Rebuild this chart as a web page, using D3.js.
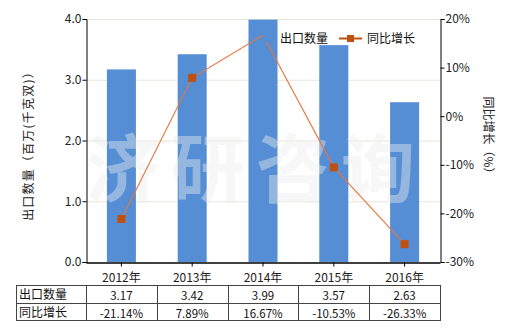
<!DOCTYPE html>
<html><head><meta charset="utf-8">
<script src="https://cdn.jsdelivr.net/npm/d3@7/dist/d3.min.js"></script>
<style>body{margin:0;background:#fff}svg{display:block}text{font-family:"Noto Sans CJK SC","DejaVu Sans",sans-serif}</style>
</head><body><svg id="c" width="520" height="330"></svg>
<script>
const categories = ["2012年","2013年","2014年","2015年","2016年"];
const exportQty = [3.17, 3.42, 3.99, 3.57, 2.63];
const yoyGrowth = [-21.14, 7.89, 16.67, -10.53, -26.33];
const qtyLabels = ["3.17","3.42","3.99","3.57","2.63"];
const growthLabels = ["-21.14%","7.89%","16.67%","-10.53%","-26.33%"];
const leftTicks = [0,1,2,3,4];
const rightTicks = [-30,-20,-10,0,10,20];

const svg = d3.select("#c");
const L = 86, R = 440, T = 19, B = 262;
const x = d3.scaleBand().domain(categories).range([L, R]).paddingInner(0.59).paddingOuter(0.295);
const xc = d3.scaleBand().domain(categories).range([L, R]);
const y = d3.scaleLinear().domain([0,4]).range([B, T]);
const y2 = d3.scaleLinear().domain([-30,20]).range([B, T]);
const fs = 12;

// gridlines
svg.append("g").selectAll("line").data(leftTicks.filter(d=>d>0)).join("line")
  .attr("x1", L).attr("x2", R).attr("y1", d=>y(d)+0.5).attr("y2", d=>y(d)+0.5)
  .attr("stroke", "#e6e6dc").attr("stroke-width", 1);

// bars
svg.append("g").selectAll("rect").data(exportQty).join("rect")
  .attr("x", (d,i)=>x(categories[i])).attr("width", x.bandwidth())
  .attr("y", d=>y(d)).attr("height", d=>B - y(d)).attr("fill", "#558ed5");

// watermark
svg.append("text").attr("x", 256).attr("y", 196).attr("text-anchor","middle")
  .attr("font-size", 74).attr("font-weight", "bold").attr("letter-spacing", 11)
  .attr("fill", "#eeeeee").attr("opacity", 0.42).text("济研咨询");

// line
const line = d3.line().x((d,i)=>xc(categories[i]) + xc.bandwidth()/2).y(d=>y2(d));
svg.append("path").datum(yoyGrowth).attr("d", line).attr("fill","none")
  .attr("stroke", "#e8743b").attr("stroke-width", 1.1);
svg.append("g").selectAll("rect").data(yoyGrowth).join("rect")
  .attr("x", (d,i)=>xc(categories[i]) + xc.bandwidth()/2 - 4)
  .attr("y", d=>y2(d) - 4).attr("width", 8).attr("height", 8)
  .attr("fill", "#c0500f").attr("opacity", (d,i)=> i===2 ? 0 : 1);

// axes
const gl = svg.append("g").attr("transform", `translate(${L+0.5},0)`)
  .call(d3.axisLeft(y).tickValues(leftTicks).tickFormat(d3.format(".1f")).tickSizeOuter(0).tickSize(4));
const gr = svg.append("g").attr("transform", `translate(${R+0.5},0)`)
  .call(d3.axisRight(y2).tickValues(rightTicks).tickFormat(d=>d+"%").tickSizeOuter(0).tickSize(4));
const gb = svg.append("g").attr("transform", `translate(0,${B+0.5})`)
  .call(d3.axisBottom(xc).tickSize(4).tickSizeOuter(0));
[gl, gr, gb].forEach(g=>{
  g.selectAll("path,line").attr("stroke","#000");
  g.selectAll("text").attr("font-size", fs).attr("fill","#222").style("font-family",'"Noto Sans CJK SC",sans-serif');
});
gl.selectAll("text").attr("x", -5);
gr.selectAll("text").attr("x", 5);
gb.select(".domain").attr("stroke-width", 1.5);
gb.selectAll("text").attr("dy", "1.0em");

// axis titles
svg.append("text").attr("transform", "translate(33,143) rotate(-90)").attr("text-anchor","middle")
  .attr("font-size", fs).attr("letter-spacing", 1.2).attr("fill","#222").text("出口数量（百万(千克双)）");
svg.append("text").attr("transform", "translate(484,138) rotate(90)").attr("text-anchor","middle")
  .attr("font-size", fs).attr("fill","#222").text("同比增长（%）");

// legend
const lg = svg.append("g");
lg.append("rect").attr("x", 263).attr("y", 34).attr("width", 12).attr("height", 8).attr("fill", "#558ed5");
lg.append("text").attr("x", 280).attr("y", 43).attr("font-size", fs).attr("fill","#111").text("出口数量");
lg.append("line").attr("x1", 339).attr("x2", 362).attr("y1", 38.5).attr("y2", 38.5).attr("stroke","#c0500f").attr("stroke-width", 2);
lg.append("rect").attr("x", 347).attr("y", 35).attr("width", 7).attr("height", 7).attr("fill","#c0500f");
lg.append("text").attr("x", 367).attr("y", 43).attr("font-size", fs).attr("fill","#111").text("同比增长");

// data table
const rowsTop = [285.5, 303.5], rowH = 17.5;
const rows = [{name:"出口数量", vals: qtyLabels}, {name:"同比增长", vals: growthLabels}];
const tg = svg.append("g");
const tableL = 16;
tg.append("rect").attr("x", tableL+0.5).attr("y", rowsTop[0]).attr("width", R - tableL).attr("height", rowH*2)
  .attr("fill","none").attr("stroke","#444");
tg.append("line").attr("x1", tableL).attr("x2", R+0.5).attr("y1", rowsTop[1]).attr("y2", rowsTop[1]).attr("stroke","#444");
[L, ...categories.slice(1).map(c=>xc(c))].forEach(xx=>{
  tg.append("line").attr("x1", Math.round(xx)+0.5).attr("x2", Math.round(xx)+0.5)
    .attr("y1", rowsTop[0]).attr("y2", rowsTop[0]+rowH*2).attr("stroke","#444");
});
rows.forEach((r, ri)=>{
  tg.append("text").attr("x", tableL+3).attr("y", rowsTop[ri]+13).attr("font-size", fs).attr("fill","#111").text(r.name);
  r.vals.forEach((v,i)=>{
    tg.append("text").attr("x", xc(categories[i]) + xc.bandwidth()/2).attr("y", rowsTop[ri]+14)
      .attr("text-anchor","middle").attr("font-size", fs-0.5).attr("fill","#111").text(v);
  });
});
</script></body></html>
